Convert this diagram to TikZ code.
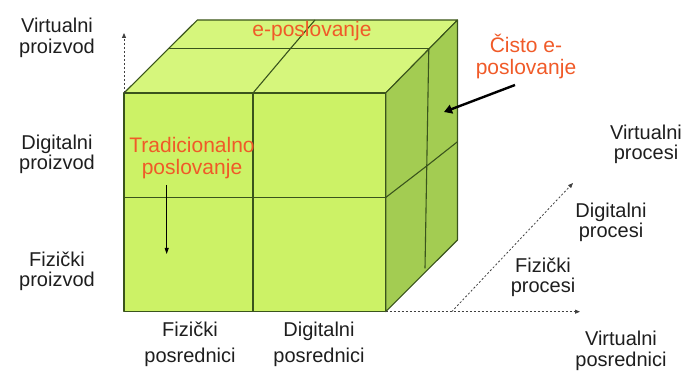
\documentclass[tikz,border=0pt]{standalone}
\usepackage{fontspec}
\setmainfont{Liberation Sans}
\usetikzlibrary{arrows.meta}
\definecolor{frontc}{RGB}{204,242,102}
\definecolor{topc}{RGB}{214,246,124}
\definecolor{sidec}{RGB}{163,204,82}
\definecolor{edgec}{RGB}{58,84,28}
\definecolor{orangec}{RGB}{240,90,40}
\definecolor{txtc}{RGB}{30,30,30}
\tikzset{
  face/.style={draw=edgec, line width=1.1pt, line join=round},
  grid/.style={draw=edgec, line width=1.1pt},
  lbl/.style={font=\fontsize{20}{20.5}\selectfont, text=txtc, align=center, inner sep=0pt, anchor=base},
  olbl/.style={lbl, font=\fontsize{21}{22.5}\selectfont, text=orangec},
  axis/.style={draw=black!75, line width=0.8pt, dash pattern=on 2pt off 2pt, -{Triangle[length=5pt,width=4pt]}},
  thinarrow/.style={draw=black, line width=0.8pt, -{Triangle[length=6pt,width=4pt]}},
  thickarrow/.style={draw=black, line width=2.4pt, -{Triangle[length=8pt,width=9pt]}}
}
\begin{document}
\begin{tikzpicture}[x=1pt,y=-1pt]
\useasboundingbox (0,0) rectangle (689,371);
% cube corners
\coordinate (FTL) at (124,93);
\coordinate (FTR) at (385.7,93);
\coordinate (FBL) at (124,311.7);
\coordinate (FBR) at (385.7,311.7);
\coordinate (BTL) at (197.3,20);
\coordinate (BTR) at (457.5,20);
\coordinate (BBR) at (457.5,240);
% faces
\path[face, fill=topc] (FTL) -- (BTL) -- (BTR) -- (FTR) -- cycle;
\path[face, fill=sidec] (FTR) -- (BTR) -- (BBR) -- (FBR) -- cycle;
\path[face, fill=frontc] (FTL) -- (FTR) -- (FBR) -- (FBL) -- cycle;
% grid lines
\coordinate (FMT) at (253,93);
\coordinate (FMB) at (253,311.7);
\coordinate (FML) at (124,197.5);
\coordinate (FMR) at (385.7,197.5);
\draw[grid] (FMT) -- (FMB);
\draw[grid] (FML) -- (FMR);
\coordinate (TML) at (169.3,48.3);
\coordinate (TMR) at (428.8,48.3);
\coordinate (TMM) at (290.7,48.3);
\coordinate (TBM) at (315,20);
\draw[grid] (TML) -- (TMR);
\draw[grid] (FMT) -- (TMM) -- (TBM);
\coordinate (SMB) at (425,268.3);
\coordinate (SMM) at (428,165);
\coordinate (SBM) at (457.5,141.7);
\draw[grid] (TMR) -- (SMB);
\draw[grid] (FMR) -- (SMM) -- (SBM);
% axes
\coordinate (AY) at (124,33);
\coordinate (AX) at (580,311.7);
\coordinate (AZ0) at (451.7,311.7);
\coordinate (AZ) at (573,183);
\draw[axis] (FTL) -- (AY);
\draw[axis] (FBR) -- (AX);
\draw[axis] (AZ0) -- (AZ);
% labels (anchor base = baseline of the last line)
\node[lbl] (vp) at (57,53.5) {Virtualni\\proizvod};
\node[lbl] (dp) at (57,170) {Digitalni\\proizvod};
\node[lbl] (fp) at (57,287) {Fizički\\proizvod};
\node[lbl] (fpos) at (190,363) {Fizički\\[5.5pt]posrednici};
\node[lbl] (dpos) at (319,363) {Digitalni\\[5.5pt]posrednici};
\node[lbl] (vpos) at (621,366.5) {Virtualni\\posrednici};
\node[lbl] (fpr) at (543,293) {Fizički\\procesi};
\node[lbl] (dpr) at (611,238) {Digitalni\\procesi};
\node[lbl] (vpr) at (646,160) {Virtualni\\procesi};
\node[olbl] (ep) at (312,36.5) {e-poslovanje};
\node[olbl] (cep) at (526,75) {Čisto e-\\poslovanje};
\node[olbl] (tp) at (192,175) {Tradicionalno\\poslovanje};
% arrows
\coordinate (TA0) at (166.7,185);
\coordinate (TA1) at (166.7,254);
\draw[thinarrow] (TA0) -- (TA1);
\coordinate (CA0) at (515,85);
\coordinate (CA1) at (444,112);
\draw[thickarrow] (CA0) -- (CA1);
\end{tikzpicture}
\end{document}
